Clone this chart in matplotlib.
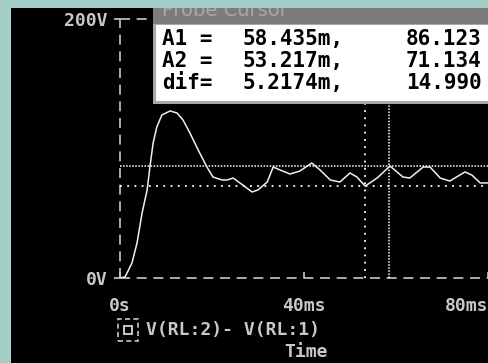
import matplotlib
matplotlib.use('Agg')
import matplotlib.pyplot as plt
from matplotlib.patches import Rectangle

W, H = 488, 363

# waveform V(RL:2)-V(RL:1) (ms, V)
t_ms = [0, 1.1, 2.6, 3.7, 4.8, 5.9, 6.5, 7.2, 8.0, 9.1, 10.9, 12.4, 13.7, 15.2, 17.0, 18.9,
        20.2, 22.2, 23.3, 24.6, 26.7, 28.7, 30.0, 32.0, 33.3, 34.8, 37.0, 39.1,
        41.7, 43.5, 45.7, 47.8, 50.0, 51.5, 53.3, 55.9, 58.7, 61.5, 63.0, 65.9,
        67.4, 69.6, 71.7, 75.0, 76.5, 78.3, 80.0]
volts = [0, 0.8, 11.6, 27.0, 50.2, 68.0, 85.7, 104.2, 116.6, 125.9, 129.0, 127.4, 122.0, 112.0, 98.8, 85.7,
         78, 75.7, 75.7, 77.2, 71.8, 66.4, 68, 74.1, 85.7, 83.4, 80.3, 82.6,
         88.8, 83.4, 75.7, 74.1, 81.1, 78, 71, 77.2, 86.5, 78, 77.2, 85.7,
         85.7, 77.2, 74.9, 81.9, 79.5, 73.4, 73.4]

# probe cursor readout
cursor_names = ['A1 =', 'A2 =', 'dif=']
cursor_t = [58.435, 53.217, 5.2174]     # ms
cursor_v = [86.123, 71.134, 14.990]
x_ticks = [0, 40, 80]
x_tick_labels = ['0s', '40ms', '80ms']
y_ticks = [0, 200]
y_tick_labels = ['0V', '200V']

FG = '#c8c8c8'
MONO = 'DejaVu Sans Mono'


def fx(x):
    return x / W


def fy(y):
    return 1 - y / H


fig = plt.figure(figsize=(W / 100, H / 100), dpi=100, facecolor='black')

ax = fig.add_axes([fx(120), fy(278), fx(488) - fx(120), fy(19) - fy(278)])
ax.set_facecolor('black')
ax.set_xlim(0, 80)
ax.set_ylim(0, 200)
for s in ax.spines.values():
    s.set_visible(False)

# dashed axes
ax.axvline(0, color=FG, lw=1.2, ls=(0, (6, 4)), clip_on=False)
ax.axhline(0, color=FG, lw=1.2, ls=(0, (6, 4)), clip_on=False)
ax.axhline(200, color=FG, lw=1.2, ls=(0, (6, 4)), clip_on=False)

# cursors
ax.axhline(cursor_v[0], color='white', lw=1.1, ls=(0, (1, 1)))
ax.axhline(cursor_v[1], color='white', lw=1.3, ls=(0, (1, 3)))
ax.axvline(cursor_t[0], color='white', lw=1.1, ls=(0, (1, 1)))
ax.axvline(cursor_t[1], color='white', lw=1.3, ls=(0, (1, 3)))

ax.plot(t_ms, volts, color='#f0f0f0', lw=1.1, solid_joinstyle='round')

ax.set_xticks(x_ticks, x_tick_labels)
ax.set_yticks(y_ticks, y_tick_labels)
ax.tick_params(axis='x', direction='in', length=4, color=FG, width=1.2,
               labelcolor=FG, labelsize=13, pad=14)
ax.tick_params(axis='y', direction='out', length=4, color=FG, width=1.2,
               labelcolor=FG, labelsize=13, pad=5)
for lab in ax.get_xticklabels() + ax.get_yticklabels():
    lab.set_family(MONO)
    lab.set_weight('bold')
ax.get_xticklabels()[-1].set_horizontalalignment('right')

# legend and axis title
fig.patches.append(Rectangle((fx(118), fy(341)), 20 / W, 22 / H, transform=fig.transFigure,
                             fill=False, ec=FG, lw=1.2, ls=(0, (3, 2))))
fig.patches.append(Rectangle((fx(124), fy(334)), 8 / W, 8 / H, transform=fig.transFigure,
                             fill=False, ec=FG, lw=1.4))
fig.text(fx(146), fy(330), 'V(RL:2)- V(RL:1)', color=FG, fontsize=13, family=MONO,
         weight='bold', va='center', ha='left')
fig.text(fx(306), fy(352), 'Time', color=FG, fontsize=13, family=MONO,
         weight='bold', va='center', ha='center')

# probe cursor window
fig.patches.append(Rectangle((fx(153), fy(104)), (W - 153) / W, 96 / H, transform=fig.transFigure,
                             fc='#a8a8a8', ec='none', zorder=5))
fig.patches.append(Rectangle((fx(153), fy(24)), (W - 153) / W, 16 / H, transform=fig.transFigure,
                             fc='#7c7c7c', ec='none', zorder=6))
fig.patches.append(Rectangle((fx(156), fy(101)), (W - 156) / W, 76 / H, transform=fig.transFigure,
                             fc='white', ec='none', zorder=6))
fig.text(fx(162), fy(16), 'Probe Cursor', color='#a8a8a8', fontsize=14, family='DejaVu Sans',
         va='baseline', ha='left', zorder=7)
rows_y = [39, 61, 83]
for name, tv, vv, ry in zip(cursor_names, cursor_t, cursor_v, rows_y):
    t_txt = ('%.3fm,' % tv) if tv >= 10 else ('%.4fm,' % tv)
    fig.text(fx(162), fy(ry), name, color='black', fontsize=15, family=MONO,
             weight='bold', va='center', ha='left', zorder=8)
    fig.text(fx(242), fy(ry), t_txt, color='black', fontsize=15, family=MONO,
             weight='bold', va='center', ha='left', zorder=8)
    fig.text(fx(406), fy(ry), '%.3f' % vv, color='black', fontsize=15, family=MONO,
             weight='bold', va='center', ha='left', zorder=8)

# teal window frame
fig.patches.append(Rectangle((0, 0), 11 / W, 1, transform=fig.transFigure,
                             fc='#a3cfc6', ec='none', zorder=10))
fig.patches.append(Rectangle((0, fy(8)), 1, 8 / H, transform=fig.transFigure,
                             fc='#a3cfc6', ec='none', zorder=10))

fig.savefig('out.png', dpi=100, facecolor='black')
